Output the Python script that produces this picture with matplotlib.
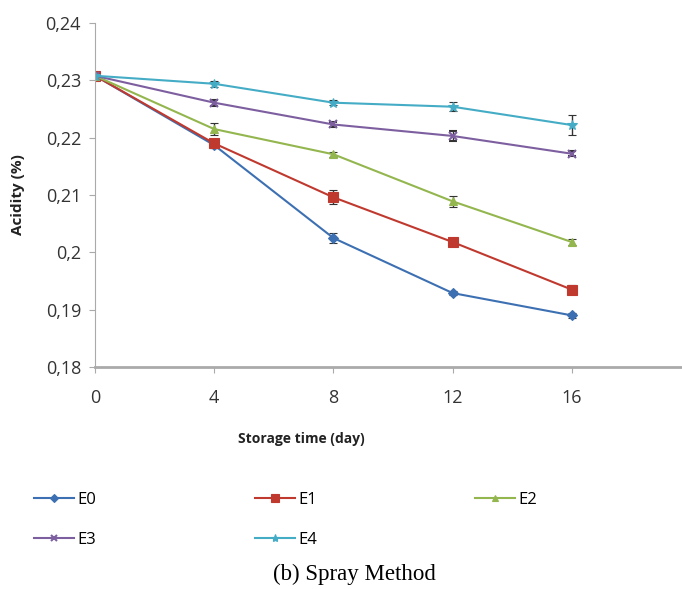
import numpy as np
import matplotlib.pyplot as plt
from matplotlib.lines import Line2D
from matplotlib.ticker import FuncFormatter

days = [0, 4, 8, 12, 16]
series = ['E0', 'E1', 'E2', 'E3', 'E4']
e0 = [0.2308, 0.2187, 0.2025, 0.1929, 0.1890]
e1 = [0.2308, 0.2190, 0.2096, 0.2018, 0.1935]
e2 = [0.2308, 0.2215, 0.2171, 0.2089, 0.2018]
e3 = [0.2308, 0.2261, 0.2223, 0.2203, 0.2172]
e4 = [0.2308, 0.2294, 0.2261, 0.2254, 0.2222]
e0_err = [0.0004, 0.0005, 0.0008, 0.0004, 0.0004]
e1_err = [0.0004, 0.0008, 0.0012, 0.0004, 0.0008]
e2_err = [0.0004, 0.0010, 0.0004, 0.0010, 0.0005]
e3_err = [0.0004, 0.0005, 0.0004, 0.0008, 0.0004]
e4_err = [0.0004, 0.0005, 0.0004, 0.0008, 0.0017]

colors = ['#3d70b2', '#c0392f', '#93b64e', '#7d5fa0', '#45acc6']
markers = ['D', 's', '^', 'x', '*']
msizes = [5, 7, 6, 6, 7]

plt.rcParams['font.family'] = ['Open Sans', 'DejaVu Sans']

fig = plt.figure(figsize=(6.82, 5.89), dpi=100)
ax = fig.add_axes([95 / 682, 1 - 367 / 589, 587 / 682, 344 / 589])

values = [e0, e1, e2, e3, e4]
errs = [e0_err, e1_err, e2_err, e3_err, e4_err]
handles = []
for name, vals, err, c, m, ms in zip(series, values, errs, colors, markers, msizes):
    mew = 1.5 if m == 'x' else 0.8
    ax.errorbar(days, vals, yerr=err, color=c, marker=m, markersize=ms,
                markeredgewidth=mew, lw=1.5,
                ecolor='#333333', elinewidth=1, capsize=3)
    handles.append(Line2D([], [], color=c, marker=m, markersize=ms - 1,
                          markeredgewidth=mew, lw=1.5, label=name))

ax.set_xlim(0, 19.7)
ax.set_ylim(0.18, 0.24)
ax.set_xticks(days)
ax.set_yticks([0.18, 0.19, 0.20, 0.21, 0.22, 0.23, 0.24])
ax.yaxis.set_major_formatter(FuncFormatter(lambda v, p: ('%g' % round(v, 3)).replace('.', ',')))

for s in ['top', 'right']:
    ax.spines[s].set_visible(False)
ax.spines['left'].set_color('#aaaaaa')
ax.spines['bottom'].set_color('#aaaaaa')
ax.spines['bottom'].set_linewidth(2)
ax.tick_params(axis='both', colors='#aaaaaa', labelcolor='#333333', labelsize=13,
               length=4, direction='out')
ax.tick_params(axis='x', pad=12)
ax.tick_params(axis='y', pad=6)

ax.set_xlabel('Storage time (day)', fontsize=10, fontweight='bold', color='#222222')
ax.xaxis.set_label_coords(0.352, -0.19)
ax.set_ylabel('Acidity (%)', fontsize=11, fontweight='bold', color='#222222')
ax.yaxis.set_label_coords(-0.12, 0.5)

# row-major order for a 3-column legend
order = [0, 3, 1, 4, 2]
fig.legend([handles[i] for i in order], [series[i] for i in order],
           loc='upper left', bbox_to_anchor=(0.028, 0.19),
           ncol=3, frameon=False, fontsize=12, handlelength=2.4,
           columnspacing=9.5, labelspacing=1.45, handletextpad=0.2)

fig.text(0.519, 0.025, '(b) Spray Method', ha='center', va='center',
         fontsize=16.5, family='Liberation Serif')

fig.savefig('out.png', dpi=100)
